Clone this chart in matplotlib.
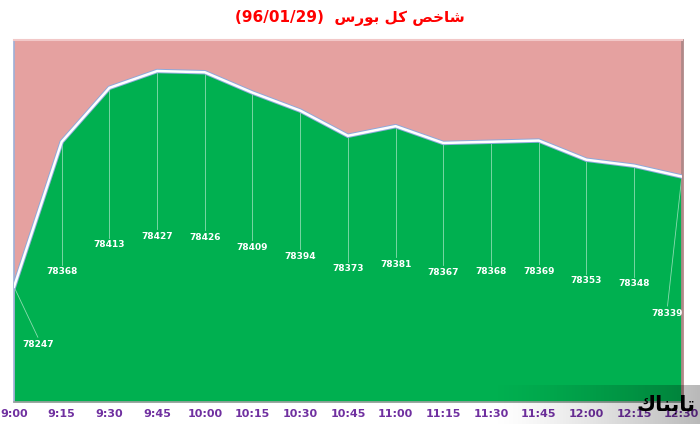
import matplotlib.pyplot as plt
import numpy as np

# data (index values, 15-minute steps)
times = ["9:00", "9:15", "9:30", "9:45", "10:00", "10:15", "10:30", "10:45",
         "11:00", "11:15", "11:30", "11:45", "12:00", "12:15", "12:30"]
values = [78247, 78368, 78413, 78427, 78426, 78409, 78394, 78373,
          78381, 78367, 78368, 78369, 78353, 78348, 78339]

# title already shaped / ordered for left-to-right drawing
title = "(96/01/29)  \uFEB1\uFEAD\uFEEE\uFE91 \uFEDE\uFEDB \uFEBA\uFEA7\uFE8E\uFEB7"
logo = "\uFED9\uFE8E\uFEE8\uFE91\uFE8E\uFE97"

C_PINK = "#E5A1A0"
C_GREEN = "#00B050"
C_EDGE = "#8EA9DB"
C_TICK = "#7030A0"

YMIN, YMAX = 78151, 78453

fig = plt.figure(figsize=(7, 4.24), dpi=100)
ax = fig.add_axes([0.02, 0.052, 0.954, 0.854])

x = np.arange(len(values))
ax.set_facecolor(C_PINK)
ax.fill_between(x, values, YMIN, color=C_GREEN, lw=0, zorder=2)
ax.plot(x, values, color=C_EDGE, lw=3.2, zorder=3, solid_joinstyle='miter')
ax.plot(x, values, color="white", lw=1.8, zorder=4, solid_joinstyle='miter')

# data labels: centred in the area, first/last nudged by hand
lab_x = x.astype(float).copy()
lab_y = [(v + YMIN) / 2 for v in values]
lab_x[0], lab_y[0] = 0.5, 78199
lab_x[-1], lab_y[-1] = 13.7, 78225

for i, v in enumerate(values):
    ax.plot([x[i], lab_x[i] if i in (0, len(values) - 1) else x[i]],
            [v, lab_y[i] + 6], color="white", lw=0.6, alpha=0.55, zorder=2.5)
    ax.text(lab_x[i], lab_y[i], str(v), fontsize=6.5, color="white",
            ha='center', va='center', fontweight='bold', zorder=5)

ax.set_xlim(0, len(values) - 1)
ax.set_ylim(YMIN, YMAX)
ax.set_yticks([])
ax.set_xticks(x)
ax.set_xticklabels(times, fontsize=8, fontweight='bold', color=C_TICK)
ax.tick_params(axis='x', length=0, pad=5)

ax.spines['left'].set_color("#9DB0D8")
ax.spines['left'].set_linewidth(1.2)
ax.spines['bottom'].set_color("#A0A0A0")
ax.spines['bottom'].set_linewidth(1.2)
ax.spines['right'].set_color("#B08888")
ax.spines['right'].set_linewidth(2)
ax.spines['top'].set_color("#F2C8C8")
ax.spines['top'].set_linewidth(1.5)

fig.text(0.5, 0.958, title, fontsize=11, fontweight='bold', color="#FF0000",
         ha='center', va='center')

# watermark band in the bottom-right corner (transparent dark gradient)
band = np.zeros((1, 256, 4))
band[0, :, 3] = np.linspace(0, 0.28, 256) ** 1.3 / 0.28 ** 0.3
lax = fig.add_axes([0.7, 0.0, 0.3, 0.093], zorder=10)
lax.imshow(band, aspect='auto', interpolation='bilinear')
lax.axis('off')
fig.text(0.952, 0.045, logo, fontsize=15, fontweight='bold', color="black",
         ha='center', va='center', zorder=11)

fig.savefig("out.png", dpi=100)
